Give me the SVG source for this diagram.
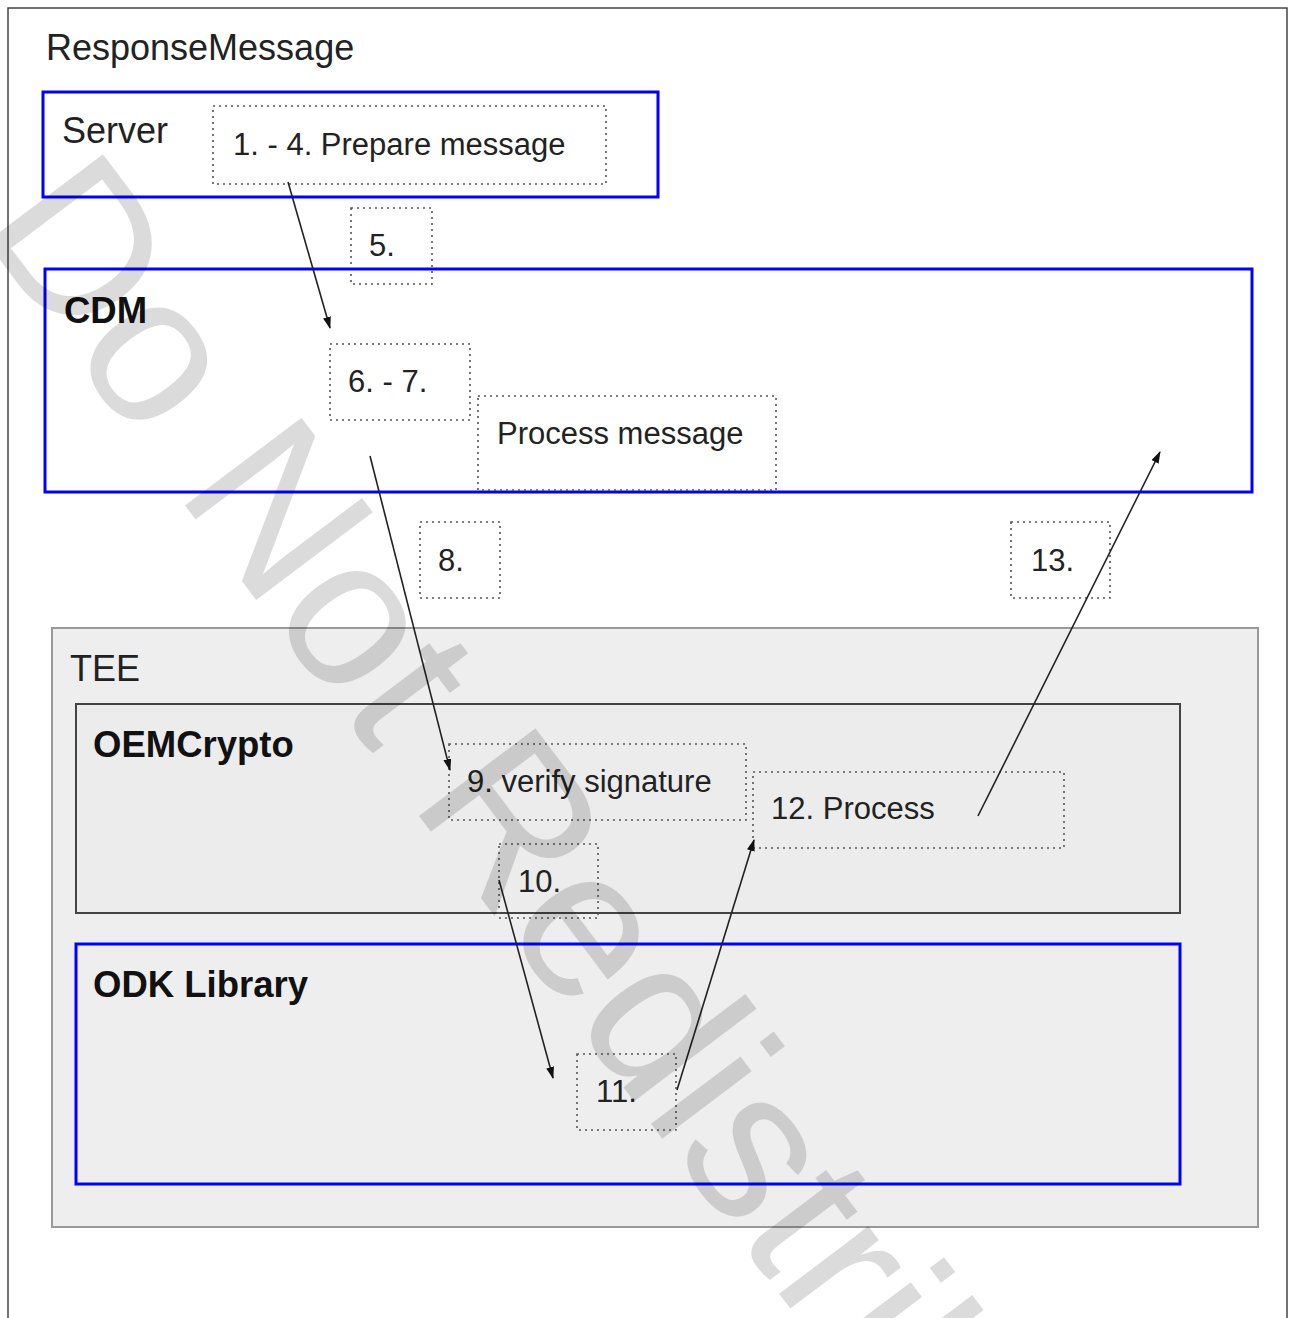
<svg xmlns="http://www.w3.org/2000/svg" width="1289" height="1318" viewBox="0 0 1289 1318">
<style>
text{font-family:"Liberation Sans",Arial,sans-serif;fill:#222}
.t{font-size:36px}
.b{font-size:36.5px;font-weight:bold;fill:#111}
.l{font-size:31px}
.blue{fill:none;stroke:#0000ff;stroke-width:3}
.dot{fill:none;stroke:#555;stroke-width:1.6;stroke-dasharray:2 4}
.arr{fill:none;stroke:#222;stroke-width:1.6;marker-end:url(#ah)}
</style>
<defs>
<marker id="ah" markerUnits="userSpaceOnUse" markerWidth="12" markerHeight="10" refX="11" refY="4" orient="auto">
<path d="M0,0 L12,4 L0,8 z" fill="#111"/>
</marker>
</defs>
<rect x="0" y="0" width="1289" height="1318" fill="#ffffff"/>
<rect x="8" y="8" width="1279" height="1340" fill="#ffffff" stroke="#444" stroke-width="1.5"/>
<text class="t" x="46" y="60">ResponseMessage</text>
<g id="server">
<rect class="blue" x="43" y="92" width="615" height="105"/>
<text class="t" x="62" y="143">Server</text>
</g>
<g id="step1-4">
<rect class="dot" x="213" y="106" width="393" height="78"/>
<text class="l" x="233" y="155">1. - 4. Prepare message</text>
</g>
<g id="step5">
<rect class="dot" x="351" y="208" width="81" height="76"/>
<text class="l" x="369" y="256">5.</text>
</g>
<g id="cdm">
<rect class="blue" x="45" y="269" width="1207" height="223"/>
<text class="b" x="64" y="323">CDM</text>
</g>
<g id="step6-7">
<rect class="dot" x="330" y="344" width="140" height="76"/>
<text class="l" x="348" y="392">6. - 7.</text>
</g>
<g id="process-message">
<rect class="dot" x="478" y="396" width="298" height="94"/>
<text class="l" x="497" y="444">Process message</text>
</g>
<g id="step8">
<rect class="dot" x="420" y="522" width="80" height="76"/>
<text class="l" x="438" y="571">8.</text>
</g>
<g id="step13">
<rect class="dot" x="1011" y="522" width="99" height="76"/>
<text class="l" x="1031" y="571">13.</text>
</g>
<g id="tee">
<rect x="52" y="628" width="1206" height="599" fill="#eeeeee" stroke="#999" stroke-width="2"/>
<text class="t" x="70" y="681">TEE</text>
</g>
<g id="oemcrypto">
<rect x="76" y="704" width="1104" height="209" fill="#ececec" stroke="#444" stroke-width="2"/>
<text class="b" x="93" y="757">OEMCrypto</text>
</g>
<g id="step9">
<rect class="dot" x="449" y="744" width="297" height="76"/>
<text class="l" x="467" y="792">9. verify signature</text>
</g>
<g id="step12">
<rect class="dot" x="753" y="772" width="311" height="76"/>
<text class="l" x="771" y="819">12. Process</text>
</g>
<g id="step10">
<rect class="dot" x="499" y="844" width="99" height="74"/>
<text class="l" x="518" y="892">10.</text>
</g>
<g id="odk">
<rect x="76" y="944" width="1104" height="240" fill="#eeeeee" stroke="#0000ff" stroke-width="3"/>
<text class="b" x="93" y="997">ODK Library</text>
</g>
<g id="step11">
<rect class="dot" x="577" y="1054" width="99" height="76"/>
<text class="l" x="596" y="1102">11.</text>
</g>
<g id="connectors">
<line class="arr" x1="288" y1="182" x2="330" y2="328"/>
<line class="arr" x1="370" y1="456" x2="450" y2="770"/>
<line class="arr" x1="499" y1="880" x2="553" y2="1078"/>
<line class="arr" x1="677" y1="1090" x2="754" y2="840"/>
<line class="arr" x1="978" y1="816" x2="1160" y2="452"/>
</g>
<text transform="translate(-24,228) rotate(53)" style="font-size:212px;fill:#000;fill-opacity:0.14">Do Not Redistribute</text>
</svg>
